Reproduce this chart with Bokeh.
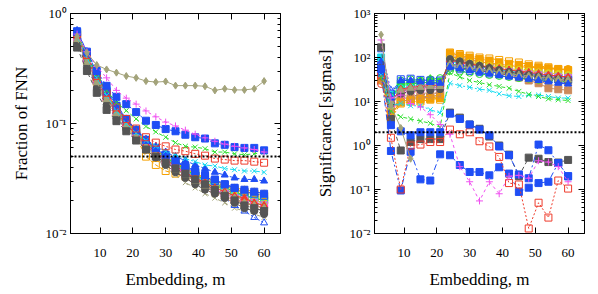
from bokeh.plotting import figure
from bokeh.layouts import row
from bokeh.models import FixedTicker, CustomJSTickFormatter, LinearAxis, LogAxis, Span
from bokeh.embed import file_html
from bokeh.resources import INLINE

NA = float("nan")

# Embedding dimension
m = [3, 6, 9, 12, 15, 18, 21, 24, 27, 30, 33, 36, 39, 42, 45, 48, 51, 54, 57, 60]

x_ticks = [10, 20, 30, 40, 50, 60]
x_lim = (1, 65)
fnn_ticks = [0.01, 0.1, 1]
sig_ticks = [0.01, 0.1, 1, 10, 100, 1000]
fnn_threshold = 0.05
sig_threshold = 2.0

# ---- Fraction of FNN (left panel) ----
fnn_olive = [0.62, 0.44, 0.34, 0.31, 0.29, 0.27, 0.26, 0.243, 0.238, 0.241, 0.221, 0.221, 0.221, 0.218, 0.200, 0.207, 0.202, 0.202, 0.207, 0.243]
fnn_magenta = [0.65, 0.45, 0.33, 0.26, 0.20, 0.17, 0.15, 0.13, 0.115, 0.103, 0.095, 0.087, 0.080, 0.074, 0.069, 0.065, 0.062, 0.060, 0.058, 0.055]
fnn_blue_a = [0.68, 0.45, 0.30, 0.22, 0.175, 0.15, 0.127, 0.106, 0.097, 0.089, 0.085, 0.079, 0.075, 0.073, 0.066, 0.064, 0.061, 0.060, 0.060, 0.057]
fnn_green_x = [0.66, 0.43, 0.28, 0.20, 0.155, 0.131, 0.11, 0.094, 0.084, 0.075, 0.067, 0.062, 0.061, 0.059, 0.055, 0.055, 0.053, 0.052, 0.053, 0.055]
fnn_red_sq = [0.65, 0.42, 0.27, 0.19, 0.14, 0.11, 0.09, 0.075, 0.067, 0.062, 0.058, 0.056, 0.053, 0.051, 0.048, 0.047, 0.046, 0.046, 0.045, 0.044]
fnn_cyan_x = [0.62, 0.40, 0.26, 0.18, 0.13, 0.10, 0.082, 0.070, 0.062, 0.056, 0.052, 0.048, 0.045, 0.042, 0.041, 0.039, 0.038, 0.037, 0.037, 0.036]
fnn_blue_tri = [0.70, 0.45, 0.29, 0.20, 0.15, 0.11, 0.088, 0.072, 0.062, 0.055, 0.050, 0.046, 0.042, 0.039, 0.036, 0.034, 0.032, 0.031, 0.031, 0.030]
fnn_gray_sq = [0.49, 0.30, 0.19, 0.133, 0.105, 0.085, 0.070, 0.058, 0.050, 0.044, 0.039, 0.035, 0.031, 0.028, 0.025, 0.022, 0.020, 0.018, 0.017, 0.016]
fnn_blue_b = [0.69, 0.44, 0.28, 0.195, 0.145, 0.11, 0.087, 0.071, 0.060, 0.052, 0.046, 0.041, 0.037, 0.034, 0.031, 0.028, 0.026, 0.025, 0.024, 0.023]
fnn_orange_sq = [0.60, 0.38, 0.24, 0.17, 0.125, 0.095, 0.075, 0.050, 0.042, 0.037, 0.035, 0.033, 0.031, 0.029, 0.027, 0.025, 0.023, 0.022, 0.021, 0.020]
fnn_khaki_x = [0.55, 0.34, 0.22, 0.155, 0.115, 0.09, 0.072, 0.058, 0.048, 0.040, 0.034, 0.029, 0.026, 0.023, 0.021, 0.019, 0.017, 0.016, 0.015, 0.014]
fnn_blue_otri = [0.62, 0.40, 0.26, 0.18, 0.13, 0.10, 0.080, 0.065, 0.054, 0.046, 0.040, 0.035, 0.031, 0.027, 0.024, 0.021, 0.018, 0.016, 0.014, 0.0125]
fnn_red_circ = [0.65, 0.42, 0.27, 0.19, 0.14, 0.105, 0.083, 0.068, 0.057, 0.049, 0.043, 0.038, 0.034, 0.031, 0.028, 0.026, 0.024, 0.022, 0.021, 0.020]
fnn_green_tri = [0.60, 0.39, 0.25, 0.175, 0.13, 0.10, 0.080, 0.066, 0.055, 0.047, 0.041, 0.036, 0.032, 0.029, 0.026, 0.024, 0.022, 0.020, 0.019, 0.018]
fnn_cyan_sq = [0.68, 0.43, 0.28, 0.20, 0.145, 0.11, 0.088, 0.071, 0.060, 0.051, 0.045, 0.040, 0.036, 0.032, 0.029, 0.027, 0.025, 0.023, 0.022, 0.021]
fnn_yellow_tri = [0.63, 0.41, 0.27, 0.185, 0.135, 0.104, 0.082, 0.067, 0.056, 0.048, 0.042, 0.037, 0.033, 0.030, 0.028, 0.026, 0.024, 0.023, 0.022, 0.021]
fnn_magenta_tri = [0.66, 0.42, 0.26, 0.18, 0.135, 0.103, 0.080, 0.066, 0.056, 0.048, 0.042, 0.038, 0.034, 0.031, 0.029, 0.027, 0.025, 0.024, 0.023, 0.022]
fnn_tan_sq = [0.58, 0.37, 0.24, 0.17, 0.125, 0.097, 0.078, 0.064, 0.053, 0.045, 0.039, 0.034, 0.030, 0.027, 0.024, 0.022, 0.020, 0.019, 0.018, 0.017]
fnn_brown_x = [0.60, 0.38, 0.245, 0.17, 0.128, 0.10, 0.079, 0.065, 0.055, 0.047, 0.041, 0.036, 0.032, 0.029, 0.026, 0.024, 0.022, 0.021, 0.020, 0.019]
fnn_orange_circ = [0.64, 0.41, 0.265, 0.185, 0.138, 0.106, 0.084, 0.069, 0.058, 0.050, 0.044, 0.039, 0.035, 0.032, 0.030, 0.028, 0.026, 0.025, 0.024, 0.023]
fnn_gray_ast = [0.57, 0.36, 0.23, 0.16, 0.12, 0.093, 0.074, 0.061, 0.051, 0.043, 0.037, 0.033, 0.029, 0.026, 0.024, 0.022, 0.020, 0.018, 0.017, 0.016]
fnn_green_ocirc = [0.61, 0.39, 0.255, 0.18, 0.133, 0.102, 0.081, 0.067, 0.057, 0.049, 0.043, 0.038, 0.033, 0.030, 0.027, 0.025, 0.023, 0.021, 0.020, 0.019]
fnn_red_ocirc = [0.59, 0.38, 0.25, 0.172, 0.128, 0.098, 0.077, 0.063, 0.053, 0.045, 0.039, 0.035, 0.031, 0.028, 0.025, 0.023, 0.021, 0.019, 0.018, 0.017]
fnn_tan_osq = [0.62, 0.40, 0.26, 0.18, 0.132, 0.10, 0.080, 0.066, 0.056, 0.048, 0.042, 0.037, 0.033, 0.030, 0.027, 0.025, 0.023, 0.022, 0.021, 0.020]
fnn_green_sq = [0.64, 0.41, 0.26, 0.18, 0.135, 0.104, 0.083, 0.068, 0.057, 0.049, 0.043, 0.038, 0.034, 0.031, 0.028, 0.026, 0.024, 0.022, 0.021, 0.020]
fnn_orange_fsq = [0.66, 0.42, 0.27, 0.185, 0.137, 0.105, 0.083, 0.068, 0.057, 0.049, 0.044, 0.039, 0.035, 0.032, 0.029, 0.027, 0.025, 0.024, 0.023, 0.022]
fnn_yellow_circ = [0.61, 0.39, 0.25, 0.175, 0.13, 0.10, 0.079, 0.064, 0.054, 0.046, 0.040, 0.036, 0.032, 0.029, 0.026, 0.024, 0.022, 0.021, 0.020, 0.019]
fnn_cyan_ocirc = [0.63, 0.40, 0.26, 0.18, 0.133, 0.102, 0.081, 0.066, 0.056, 0.048, 0.042, 0.037, 0.033, 0.030, 0.027, 0.025, 0.023, 0.022, 0.021, 0.020]
fnn_magenta_osq = [0.60, 0.38, 0.245, 0.172, 0.128, 0.099, 0.078, 0.064, 0.053, 0.046, 0.040, 0.035, 0.031, 0.028, 0.025, 0.023, 0.021, 0.020, 0.019, 0.018]
fnn_tan_x = [0.56, 0.35, 0.225, 0.158, 0.118, 0.092, 0.073, 0.060, 0.050, 0.042, 0.036, 0.032, 0.028, 0.025, 0.023, 0.021, 0.019, 0.017, 0.016, 0.015]
fnn_blue_osq = [0.67, 0.43, 0.275, 0.19, 0.14, 0.108, 0.086, 0.070, 0.059, 0.051, 0.045, 0.040, 0.036, 0.033, 0.030, 0.028, 0.026, 0.024, 0.023, 0.022]
fnn_red_tri = [0.62, 0.40, 0.255, 0.178, 0.131, 0.10, 0.079, 0.065, 0.055, 0.047, 0.041, 0.036, 0.032, 0.029, 0.026, 0.024, 0.022, 0.021, 0.019, 0.018]
fnn_dgray_circ = [0.53, 0.33, 0.21, 0.148, 0.112, 0.088, 0.071, 0.058, 0.049, 0.042, 0.036, 0.032, 0.028, 0.025, 0.023, 0.021, 0.019, 0.017, 0.016, 0.015]
fnn_olive_tri = [0.58, 0.36, 0.235, 0.165, 0.123, 0.095, 0.075, 0.062, 0.052, 0.044, 0.038, 0.034, 0.030, 0.027, 0.025, 0.023, 0.021, 0.019, 0.018, 0.017]

# ---- Significance in sigmas (right panel) ----
sig_olive = [330, 8.0, 2.5, 0.5, NA, NA, NA, NA, NA, NA, NA, NA, NA, NA, NA, NA, NA, NA, NA, NA]
sig_magenta = [250, 12, 14, 9.0, 7.5, 5.0, 3.0, 1.8, 0.33, 0.15, 0.055, 0.15, 0.08, 0.20, 0.21, 0.18, 0.45, 0.42, 0.33, 0.15]
sig_blue_a = [55, 2.9, 2.1, 1.7, 2.0, 2.0, 2.0, 5.3, 4.0, 3.0, 2.3, 1.7, 0.95, 0.60, 0.22, 0.18, 1.05, 0.78, 0.40, 0.20]
sig_green_x = [35, 6.0, 4.5, 4.0, 3.6, 3.2, 2.6, 45, 36, 30, 27, 24, 22, 20, 17, 14.5, 13, 11.5, 11, 10.5]
sig_red_sq = [40, 1.5, 0.10, 1.0, 1.05, 1.2, 1.2, 2.3, 1.8, 2.0, 1.25, 0.95, 0.55, 0.14, 0.13, 0.013, 0.05, 0.023, 0.16, 0.105]
sig_cyan_x = [40, 8.0, 9.0, 8.0, 8.0, 6.5, 5.5, 26, 23, 21, 19, 18, 15, 13.5, 13, 14, 14, 13, 12, 12]
sig_blue_tri = [80, 12, 30, 30, 28, 27, 26, 60, 55, 50, 46, 42, 39, 36, 34, 32, 30, 28, 26, 25]
sig_gray_sq = [170, 4.0, 0.77, 1.2, 1.4, 1.4, 1.4, 5.6, 4.3, 3.0, 2.4, 1.6, 1.0, 0.62, 0.20, 0.53, 0.50, 0.42, 0.41, 0.47]
sig_blue_b = [45, 0.75, 0.095, 0.72, 0.17, 0.16, 0.63, 0.60, 0.36, 0.25, 0.25, 0.21, 0.32, 0.23, 0.088, 0.11, 0.14, 0.15, 0.40, 0.20]
sig_orange_sq = [35, 4.0, 9.0, 10, 10, 11, 11, 130, 120, 110, 100, 95, 88, 82, 77, 70, 65, 60, 55, 50]
sig_khaki_x = [50, 7.0, 13, 14, 15, 16, 17, 68, 62, 57, 52, 48, 45, 42, 40, 38, 36, 33, 32, 30]
sig_blue_otri = [150, 18, 28, 26, 25, 26, 27, 55, 50, 46, 43, 40, 38, 36, 34, 32, 30, 28, 27, 26]
sig_red_circ = [45, 10, 18, 20, 22, 22, 24, 85, 78, 70, 64, 58, 52, 48, 45, 42, 38, 35, 32, 30]
sig_green_tri = [50, 12, 25, 28, 30, 33, 28, 60, 55, 52, 50, 48, 45, 42, 40, 38, 36, 34, 32, 30]
sig_cyan_sq = [100, 14, 22, 24, 22, 23, 25, 90, 80, 72, 66, 60, 56, 52, 50, 47, 45, 42, 40, 38]
sig_yellow_tri = [40, 9.0, 14, 16, 17, 18, 19, 100, 90, 82, 75, 70, 65, 60, 55, 52, 48, 45, 43, 40]
sig_magenta_tri = [60, 11, 20, 22, 24, 25, 26, 70, 62, 58, 55, 52, 48, 46, 44, 42, 40, 38, 37, 36]
sig_tan_sq = [30, 6.0, 12, 12, 13, 13, 14, 110, 95, 80, 65, 55, 48, 40, 35, 30, 26, 20, 19, 18]
sig_brown_x = [35, 7.0, 11, 13, 14, 15, 16, 65, 58, 54, 50, 46, 42, 40, 37, 35, 33, 31, 29, 28]
sig_orange_circ = [30, 5.0, 10, 11, 12, 12, 13, 105, 95, 88, 80, 75, 70, 66, 62, 60, 58, 56, 54, 55]
sig_gray_ast = [65, 10, 17, 19, 20, 21, 20, 78, 70, 62, 57, 52, 48, 45, 43, 40, 38, 36, 34, 33]
sig_green_ocirc = [40, 13, 30, 32, 30, 32, 34, 50, 48, 45, 42, 40, 38, 36, 34, 33, 31, 30, 29, 28]
sig_red_ocirc = [25, 9.0, 15, 18, 20, 21, 22, 80, 75, 68, 62, 57, 53, 50, 47, 44, 41, 39, 37, 35]
sig_tan_osq = [35, 6.0, 10, 11, 12, 13, 14, 120, 105, 92, 82, 72, 64, 58, 52, 46, 40, 36, 32, 28]
sig_green_sq = [48, 11, 24, 26, 27, 27, 28, 72, 66, 60, 55, 51, 47, 44, 41, 39, 37, 35, 33, 32]
sig_orange_fsq = [38, 5.0, 9.5, 10.5, 11, 11.5, 12, 125, 112, 100, 92, 85, 78, 72, 68, 64, 60, 57, 54, 52]
sig_yellow_circ = [42, 8.0, 15, 17, 18, 19, 20, 95, 85, 76, 70, 64, 60, 56, 52, 49, 46, 44, 42, 40]
sig_cyan_ocirc = [55, 12, 20, 21, 21, 22, 23, 82, 74, 67, 61, 56, 52, 49, 46, 43, 41, 39, 37, 36]
sig_magenta_osq = [45, 9.0, 16, 18, 19, 20, 21, 75, 68, 62, 57, 53, 49, 46, 43, 41, 39, 37, 35, 34]
sig_tan_x = [28, 5.5, 10, 11, 12, 12.5, 13, 100, 88, 76, 66, 58, 50, 44, 38, 33, 29, 25, 22, 20]
sig_blue_osq = [65, 15, 32, 33, 31, 30, 30, 65, 60, 55, 51, 47, 44, 41, 39, 37, 35, 33, 32, 31]
sig_red_tri = [35, 10, 19, 21, 22, 23, 24, 88, 80, 72, 66, 61, 56, 52, 49, 46, 43, 40, 38, 36]
sig_dgray_circ = [60, 9.0, 15, 17, 18, 18, 19, 92, 82, 72, 65, 58, 52, 47, 43, 40, 37, 34, 32, 30]
sig_olive_tri = [50, 10, 18, 20, 21, 22, 22, 70, 64, 58, 54, 50, 46, 43, 40, 38, 36, 34, 32, 31]

# ---- styles: (fnn, sig, color, marker, filled, dash) ----
RED, GREEN, BLUE, MAGENTA, CYAN = "#ee3b2b", "#2ee02e", "#1f4ef5", "#f050f0", "#14dcf0"
OLIVE, DGRAY, ORANGE, TAN, YELLOW = "#a3a37a", "#555555", "#f5a000", "#cc8a5c", "#e0d020"
BROWN, GRAY = "#a0522d", "#808080"

bundle = [
    (fnn_orange_sq, sig_orange_sq, ORANGE, "square", False, "4 2"),
    (fnn_khaki_x, sig_khaki_x, OLIVE, "x", False, "4 3"),
    (fnn_blue_otri, sig_blue_otri, BLUE, "triangle", False, "2 2"),
    (fnn_red_circ, sig_red_circ, RED, "circle", True, "solid"),
    (fnn_green_tri, sig_green_tri, GREEN, "triangle", True, "6 3"),
    (fnn_cyan_sq, sig_cyan_sq, CYAN, "square", True, "2 3"),
    (fnn_yellow_tri, sig_yellow_tri, YELLOW, "triangle", False, "6 3 2 3"),
    (fnn_magenta_tri, sig_magenta_tri, MAGENTA, "triangle", True, "4 2"),
    (fnn_tan_sq, sig_tan_sq, TAN, "square", True, "solid"),
    (fnn_brown_x, sig_brown_x, BROWN, "x", False, "2 2"),
    (fnn_orange_circ, sig_orange_circ, ORANGE, "circle", True, "solid"),
    (fnn_gray_ast, sig_gray_ast, GRAY, "asterisk", False, "3 3"),
    (fnn_green_ocirc, sig_green_ocirc, GREEN, "circle", False, "2 2"),
    (fnn_red_ocirc, sig_red_ocirc, RED, "circle", False, "4 2"),
    (fnn_tan_osq, sig_tan_osq, TAN, "square", False, "4 2"),
    (fnn_green_sq, sig_green_sq, GREEN, "square", True, "solid"),
    (fnn_orange_fsq, sig_orange_fsq, ORANGE, "square", True, "6 3"),
    (fnn_yellow_circ, sig_yellow_circ, YELLOW, "circle", True, "2 2"),
    (fnn_cyan_ocirc, sig_cyan_ocirc, CYAN, "circle", False, "4 2"),
    (fnn_magenta_osq, sig_magenta_osq, MAGENTA, "square", False, "2 3"),
    (fnn_tan_x, sig_tan_x, TAN, "x", False, "6 3 2 3"),
    (fnn_blue_osq, sig_blue_osq, BLUE, "square", False, "4 3"),
    (fnn_red_tri, sig_red_tri, RED, "triangle", True, "solid"),
    (fnn_dgray_circ, sig_dgray_circ, DGRAY, "circle", True, "3 3"),
    (fnn_olive_tri, sig_olive_tri, OLIVE, "triangle", True, "4 2"),
    (fnn_blue_tri, sig_blue_tri, BLUE, "triangle", True, "4 2"),
    (fnn_blue_b, sig_blue_b, BLUE, "square", True, "6 3 2 3"),
    (fnn_gray_sq, sig_gray_sq, DGRAY, "square", True, "4 3"),
]
outliers = [
    (fnn_cyan_x, sig_cyan_x, CYAN, "x", False, "6 2 2 2"),
    (fnn_red_sq, sig_red_sq, RED, "square", False, "2 2"),
    (fnn_green_x, sig_green_x, GREEN, "x", False, "4 3"),
    (fnn_blue_a, sig_blue_a, BLUE, "square", True, "6 3 2 3"),
    (fnn_magenta, sig_magenta, MAGENTA, "cross", False, "3 3"),
    (fnn_olive, sig_olive, OLIVE, "diamond", True, "solid"),
]

FONT = "Liberation Serif"

sup_fmt = CustomJSTickFormatter(code=r"""
const e = Math.round(Math.log10(tick));
const sup = {"0": "\u2070", "1": "\u00b9", "2": "\u00b2", "3": "\u00b3", "-": "\u207b"};
let s = "";
for (const c of String(e)) { s += sup[c]; }
return "10" + s;
""")


def blank():
    return CustomJSTickFormatter(code="return '';")


def style_axis(ax, minor):
    ax.axis_line_color = "black"
    ax.major_tick_in = 6
    ax.major_tick_out = 0
    ax.minor_tick_in = 3 if minor else 0
    ax.minor_tick_out = 0
    ax.major_tick_line_color = "black"
    ax.minor_tick_line_color = "black"
    ax.major_label_text_font = FONT
    ax.major_label_text_font_size = "13px"
    ax.major_label_text_color = "black"
    ax.axis_label_text_font = FONT
    ax.axis_label_text_font_style = "normal"
    ax.axis_label_text_font_size = "17px"
    ax.axis_label_text_color = "black"


def make_panel(key, ylabel, yr, yticks, threshold, width, bl, br):
    p = figure(width=width, height=294, x_range=x_lim, y_range=yr, y_axis_type="log",
               output_backend="svg", toolbar_location=None,
               min_border_left=bl, min_border_right=br, min_border_top=13, min_border_bottom=61)
    p.grid.visible = False
    p.outline_line_color = "black"
    p.background_fill_color = "white"
    p.border_fill_color = "white"

    xt = FixedTicker(ticks=x_ticks, minor_ticks=[])
    ymin = [k * t for t in yticks[:-1] for k in range(2, 10)]
    yt = FixedTicker(ticks=yticks, minor_ticks=ymin)

    xa = p.xaxis[0]
    xa.ticker = xt
    xa.axis_label = "Embedding, m"
    style_axis(xa, False)
    xa.major_label_standoff = 15
    xa.axis_label_standoff = 10

    ya = p.yaxis[0]
    ya.ticker = yt
    ya.formatter = sup_fmt
    ya.axis_label = ylabel
    style_axis(ya, True)
    ya.major_label_standoff = 4
    ya.axis_label_standoff = 12

    top = LinearAxis(ticker=FixedTicker(ticks=x_ticks, minor_ticks=[]), formatter=blank())
    style_axis(top, False)
    top.major_label_standoff = 0
    p.add_layout(top, "above")
    right = LogAxis(ticker=FixedTicker(ticks=yticks, minor_ticks=ymin), formatter=blank())
    style_axis(right, True)
    right.major_label_standoff = 0
    p.add_layout(right, "right")

    for s in bundle + outliers:
        ys = s[0] if key == 0 else s[1]
        color, marker, filled, dash = s[2], s[3], s[4], s[5]
        p.line(m, ys, line_color=color, line_width=1, line_dash=dash)
        p.scatter(m, ys, marker=marker, size=7, line_color=color, line_width=1,
                  fill_color=color if filled else None)

    p.add_layout(Span(location=threshold, dimension="width", line_color="black",
                      line_dash="2 2", line_width=2))
    return p


p1 = make_panel(0, "Fraction of FNN", (0.01, 1), fnn_ticks, fnn_threshold, 308, 70, 28)
p2 = make_panel(1, "Significance [sigmas]", (0.01, 1000), sig_ticks, sig_threshold, 282, 66, 6)

layout = row(p1, p2)
open("out.html", "w", encoding="utf-8").write(file_html(layout, INLINE))
